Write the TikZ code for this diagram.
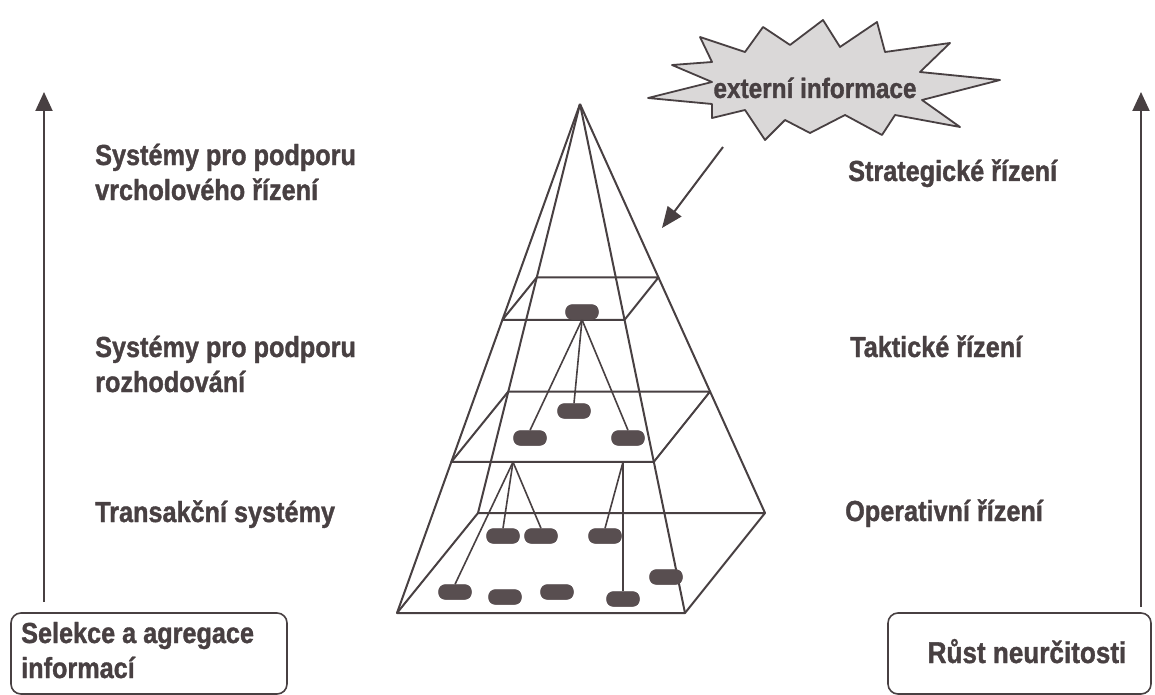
\documentclass[tikz,border=0pt]{standalone}
\usepackage{fontspec}
\setmainfont{Liberation Sans}[FakeStretch=0.87,BoldFeatures={FakeBold=1.2}]
\usetikzlibrary{arrows.meta,calc}
\definecolor{ink}{RGB}{72,64,66}
\definecolor{pillc}{RGB}{88,78,80}
\definecolor{burst}{RGB}{218,216,216}
\begin{document}
\begin{tikzpicture}[x=1pt,y=-1pt,line join=round,
  edge/.style={draw=ink,line width=2pt},
  link/.style={draw=ink,line width=1.6pt},
  pill/.style={fill=pillc,rounded corners=7pt,minimum width=33pt,minimum height=15pt,inner sep=0pt},
  lbl/.style={text=ink,font=\bfseries\fontsize{29}{34}\selectfont,anchor=base west,inner sep=0pt},
  boxlbl/.style={text=ink,font=\bfseries\fontsize{30}{34}\selectfont,inner sep=0pt},
  frame/.style={draw=ink,line width=1.6pt,rounded corners=10pt},
  uparrow/.style={draw=ink,line width=2pt,-{Triangle[length=19pt,width=17pt]}}]
\fill[white] (0,0) rectangle (1155,695);
\useasboundingbox (0,0) rectangle (1155,695);

% pyramid
\coordinate (A) at (580,104);
\coordinate (FL) at (397,613);
\coordinate (FR) at (685,613);
\coordinate (BR) at (765,513);
\coordinate (BL) at (478,513);
\foreach \c in {FL,FR,BR,BL}{
  \coordinate (\c2) at ($(A)!0.703!(\c)$);
  \coordinate (\c3) at ($(A)!0.424!(\c)$);
}
\draw[edge] (A) -- (FL);
\draw[edge] (A) -- (BL);
\draw[edge] (A) -- (BR);
\draw[edge] (A) -- (FR);
\draw[edge] (FL) -- (FR) -- (BR) -- (BL) -- cycle;
\draw[edge] (FL2) -- (FR2) -- (BR2) -- (BL2) -- cycle;
\draw[edge] (FL3) -- (FR3) -- (BR3) -- (BL3) -- cycle;

% pill positions and connectors
\coordinate (b1) at (513,462);
\coordinate (b2) at (623,462);
\node[pill] (p0) at (582,312) {};
\node[pill] (q1) at (574,411) {};
\node[pill] (q2) at (530,438) {};
\node[pill] (q3) at (628,438) {};
\node[pill] (r1) at (503,536) {};
\node[pill] (r2) at (541,536) {};
\node[pill] (r3) at (605,536) {};
\node[pill] (s1) at (455,592) {};
\node[pill] (s2) at (505,597) {};
\node[pill] (s3) at (557,592) {};
\node[pill] (s4) at (623,599) {};
\node[pill] (s5) at (666,577) {};
\draw[link] (p0.south) -- (q1.north);
\draw[link] (p0.south) -- (q2.north);
\draw[link] (p0.south) -- (q3.north);
\draw[link] (b1) -- (s1.north);
\draw[link] (b1) -- (r1.north);
\draw[link] (b1) -- (r2.north);
\draw[link] (b2) -- (r3.north);
\draw[link] (b2) -- (s4.north);
\foreach \p in {p0,q1,q2,q3,r1,r2,r3,s1,s2,s3,s4,s5}{
  \fill[pillc,rounded corners=7pt] (\p.south west) rectangle (\p.north east);
}

% starburst
\draw[draw=ink,line width=1.8pt,fill=burst]
 (648,98) -- (712,82) -- (672,65) -- (712,62) -- (700,37) -- (745,52) -- (763,27)
 -- (790,45) -- (823,20) -- (840,47) -- (877,22) -- (885,52) -- (950,43) -- (920,72)
 -- (1000,80) -- (922,100) -- (960,127) -- (895,115) -- (882,135) -- (845,115)
 -- (810,133) -- (785,120) -- (765,140) -- (745,110) -- (712,118) -- (712,104) -- cycle;
\node[text=ink,font=\bfseries\fontsize{28}{32}\selectfont,inner sep=0pt,anchor=base] (ext) at (815,98) {externí informace};
\coordinate (xs) at (723,147);
\coordinate (xe) at (662,228);
\draw[draw=ink,line width=2pt,-{Triangle[length=21pt,width=17pt]}] (xs) -- (xe);

% side arrows
\coordinate (la0) at (44,602);
\coordinate (la1) at (44,92);
\coordinate (ra0) at (1141,607);
\coordinate (ra1) at (1141,92);
\draw[uparrow] (la0) -- (la1);
\draw[uparrow] (ra0) -- (ra1);

% labels left
\node[lbl] (t1) at (95,165) {Systémy pro podporu};
\node[lbl] (t2) at (95,200) {vrcholového řízení};
\node[lbl] (t3) at (95,357) {Systémy pro podporu};
\node[lbl] (t4) at (95,392) {rozhodování};
\node[lbl] (t5) at (95,522) {Transakční systémy};
% labels right
\node[lbl] (u1) at (848,181) {Strategické řízení};
\node[lbl] (u2) at (850,357) {Taktické řízení};
\node[lbl] (u3) at (845,521) {Operativní řízení};

% boxes
\draw[frame] (11,613) rectangle (287,694);
\node[lbl] (v1) at (21,643) {Selekce a agregace};
\node[lbl] (v2) at (21,678) {informací};
\draw[frame] (888,613) rectangle (1151,694);
\node[boxlbl,anchor=base] (w1) at (1027,663) {Růst neurčitosti};
\end{tikzpicture}
\end{document}
